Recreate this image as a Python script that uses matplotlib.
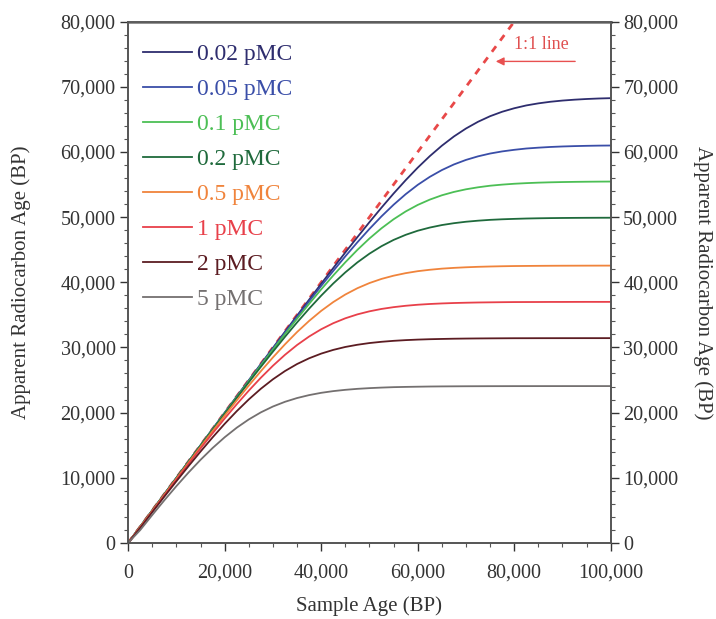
import matplotlib
matplotlib.use("Agg")
import matplotlib.pyplot as plt
from matplotlib.ticker import MultipleLocator, FuncFormatter

plt.rcParams['font.family'] = ['Liberation Serif', 'DejaVu Serif']

# sample age (BP)
age = [0, 2500, 5000, 7500, 10000, 12500, 15000, 17500, 20000, 22500, 25000,
       27500, 30000, 32500, 35000, 37500, 40000, 42500, 45000, 47500, 50000,
       52500, 55000, 57500, 60000, 62500, 65000, 67500, 70000, 72500, 75000,
       77500, 80000, 82500, 85000, 87500, 90000, 92500, 95000, 97500, 100000]

# apparent radiocarbon age (BP)
pmc_002 = [0, 2500, 5000, 7496, 9994, 12492, 14990, 17486, 19980, 22474, 24960,
           27451, 29930, 32409, 34880, 37331, 39770, 42187, 44580, 46927, 49230,
           51463, 53620, 55665, 57590, 59358, 60960, 62379, 63600, 64635, 65490,
           66173, 66710, 67143, 67460, 67707, 67890, 68027, 68130, 68207, 68260]
pmc_005 = [0, 2499, 4990, 7490, 9986, 12481, 14970, 17465, 19950, 22434, 24910,
           27378, 29830, 32274, 34690, 37083, 39440, 41740, 43980, 46137, 48190,
           50121, 51900, 53516, 54950, 56180, 57220, 58084, 58780, 59329, 59760,
           60085, 60330, 60530, 60660, 60767, 60843, 60899, 60942, 60973, 60990]
pmc_01 = [0, 2497, 4985, 7480, 9972, 12462, 14950, 17429, 19900, 22369, 24820,
          27257, 29670, 32054, 34400, 36687, 38910, 41045, 43070, 44972, 46720,
          48288, 49670, 50866, 51870, 52686, 53350, 53865, 54270, 54577, 54820,
          54988, 55120, 55216, 55290, 55343, 55382, 55411, 55432, 55448, 55459]
pmc_02 = [0, 2493, 4970, 7459, 9944, 12424, 14900, 17359, 19810, 22240, 24650,
          27022, 29350, 31631, 33840, 35949, 37950, 39815, 41520, 43051, 44390,
          45540, 46500, 47280, 47910, 48397, 48780, 49068, 49290, 49452, 49580,
          49667, 49730, 49784, 49820, 49848, 49868, 49882, 49893, 49901, 49906]
pmc_05 = [0, 2445, 4926, 7398, 9862, 12312, 14740, 17153, 19530, 21867, 24150,
          26355, 28470, 30479, 32360, 34071, 35610, 36962, 38120, 39088, 39880,
          40515, 41010, 41399, 41700, 41917, 42090, 42209, 42300, 42371, 42420,
          42459, 42490, 42506, 42520, 42532, 42540, 42545, 42550, 42553, 42555]
pmc_1 = [0, 2391, 4851, 7299, 9726, 12127, 14500, 16820, 19090, 21278, 23370,
         25351, 27190, 28868, 30370, 31675, 32790, 33716, 34470, 35071, 35540,
         35906, 36180, 36391, 36550, 36665, 36750, 36815, 36860, 36897, 36920,
         36942, 36960, 36966, 36970, 36979, 36980, 36986, 36990, 36989, 36990]
pmc_2 = [0, 2283, 4705, 7102, 9461, 11771, 14020, 16194, 18270, 20216, 22020,
         23657, 25110, 26376, 27450, 28333, 29050, 29620, 30070, 30407, 30670,
         30863, 31010, 31118, 31200, 31259, 31300, 31336, 31360, 31377, 31390,
         31400, 31410, 31412, 31416, 31418, 31420, 31421, 31423, 31423, 31426]
pmc_5 = [0, 1969, 4283, 6539, 8713, 10790, 12750, 14562, 16210, 17677, 18950,
         20033, 20930, 21654, 22230, 22681, 23030, 23293, 23490, 23641, 23750,
         23834, 23900, 23939, 23970, 23998, 24016, 24028, 24039, 24045, 24051,
         24054, 24058, 24059, 24061, 24062, 24063, 24064, 24064, 24065, 24065]

labels = ['0.02 pMC', '0.05 pMC', '0.1 pMC', '0.2 pMC', '0.5 pMC', '1 pMC', '2 pMC', '5 pMC']
series = [pmc_002, pmc_005, pmc_01, pmc_02, pmc_05, pmc_1, pmc_2, pmc_5]
colors = ['#2e2d6e', '#3a4ea8', '#4cbf55', '#1f6a3c', '#f0843c', '#e8404a', '#5c1c22', '#747070']

one_to_one = [0, 80000]

fig = plt.figure(figsize=(7.16, 6.19), dpi=100)
ax = fig.add_axes([0.179, 0.123, 0.674, 0.842])

ax.plot(one_to_one, one_to_one, color='#e84848', lw=2, ls=(0, (2.5, 2.5)), zorder=1)
for y, c, lab in zip(series, colors, labels):
    ax.plot(age, y, color=c, lw=1.3, label=lab, zorder=2)

ax.set_xlim(0, 100000)
ax.set_ylim(0, 80000)

fmt = FuncFormatter(lambda v, p: f'{int(v):,}')
ax.xaxis.set_major_locator(MultipleLocator(20000))
ax.xaxis.set_minor_locator(MultipleLocator(5000))
ax.yaxis.set_major_locator(MultipleLocator(10000))
ax.yaxis.set_minor_locator(MultipleLocator(2000))
ax.xaxis.set_major_formatter(fmt)
ax.yaxis.set_major_formatter(fmt)

ax2 = ax.twinx()
ax2.set_ylim(0, 80000)
ax2.yaxis.set_major_locator(MultipleLocator(10000))
ax2.yaxis.set_minor_locator(MultipleLocator(2000))
ax2.yaxis.set_major_formatter(fmt)

for a in (ax, ax2):
    a.tick_params(which='major', direction='out', length=6, width=1, labelsize=14.5, colors='#333333')
    a.tick_params(which='minor', direction='out', length=3, width=0.8, colors='#555555')
    for s in a.spines.values():
        s.set_color('#555555')
        s.set_linewidth(1.2)
ax.tick_params(axis='x', which='major', pad=9)
ax.tick_params(axis='y', which='major', pad=3)
ax2.tick_params(axis='y', which='major', pad=3)
ax.spines['top'].set_color('#888888')
ax.spines['top'].set_linewidth(2)

ax.set_xlabel('Sample Age (BP)', fontsize=15, color='#333333', labelpad=10)
ax.set_ylabel('Apparent Radiocarbon Age (BP)', fontsize=15, color='#333333', labelpad=21)
ax2.set_ylabel('Apparent Radiocarbon Age (BP)', fontsize=15, color='#333333',
               rotation=270, labelpad=25)

leg = ax.legend(loc='upper left', bbox_to_anchor=(0.011, 0.976), borderaxespad=0,
                frameon=False, fontsize=17, handlelength=2.07, handletextpad=0.2,
                labelspacing=0.57)
for t, c in zip(leg.get_texts(), colors):
    t.set_color(c)

ax.annotate('', xy=(75600, 73900), xytext=(93200, 73900),
            arrowprops=dict(arrowstyle='-|>', color='#e85050', lw=1, mutation_scale=12))
ax.text(85700, 76500, '1:1 line', color='#e05050', fontsize=13, ha='center', va='center')

fig.savefig('out.png', dpi=100)
